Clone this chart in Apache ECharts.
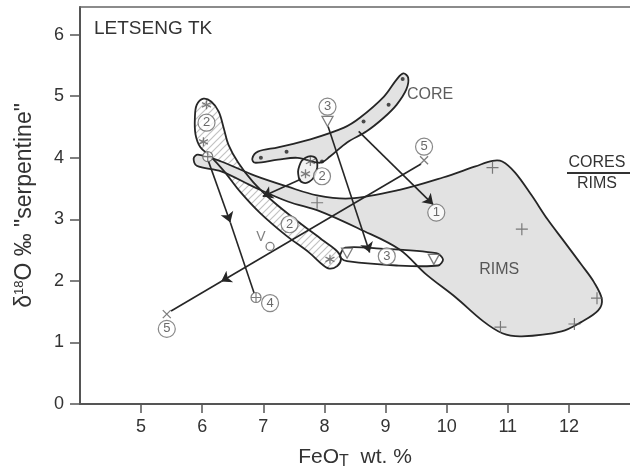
<!DOCTYPE html>
<html>
<head>
<meta charset="utf-8">
<script src="https://cdn.jsdelivr.net/npm/echarts@6/dist/echarts.min.js"></script>
<style>
  html, body { margin: 0; padding: 0; background: #fff; }
  #chart { width: 630px; height: 475px; }
</style>
</head>
<body>
<div id="chart"></div>
<script>
// axis ticks
var xTicks = [5, 6, 7, 8, 9, 10, 11, 12];
var yTicks = [0, 1, 2, 3, 4, 5, 6];

// outlined fields (FeO, d18O)
var rimsOutline = [[5.86,3.99],[5.93,4.05],[6.31,3.94],[6.86,3.71],[7.40,3.53],[7.88,3.39],[8.42,3.34],[9.23,3.48],
  [9.94,3.68],[10.47,3.86],[10.75,3.95],[10.91,3.94],[11.12,3.76],[11.39,3.39],[11.65,3.00],[11.93,2.63],[12.20,2.27],
  [12.41,1.98],[12.54,1.70],[12.48,1.52],[12.20,1.33],[11.88,1.18],[11.23,1.10],[10.91,1.15],[10.59,1.35],[10.15,1.73],
  [9.66,2.11],[9.23,2.51],[8.58,2.84],[7.93,3.13],[7.40,3.29],[6.86,3.52],[6.31,3.78],[5.91,3.87]];
var hatchOutline = [[6.15,4.91],[6.27,4.75],[6.35,4.49],[6.43,4.21],[6.59,3.92],[6.83,3.61],[7.16,3.29],[7.56,2.97],
  [7.96,2.67],[8.21,2.48],[8.27,2.35],[8.21,2.24],[8.08,2.20],[7.96,2.27],[7.75,2.46],[7.37,2.74],[6.94,3.11],
  [6.62,3.45],[6.36,3.78],[6.14,4.02],[5.97,4.17],[5.89,4.38],[5.88,4.65],[5.91,4.86],[6.02,4.96]];
var coreOutline = [[6.82,3.99],[6.91,4.10],[7.24,4.17],[7.77,4.30],[8.32,4.49],[8.58,4.65],[8.97,4.99],[9.18,5.27],
  [9.29,5.37],[9.37,5.30],[9.34,5.11],[9.18,4.86],[8.97,4.65],[8.69,4.43],[8.37,4.25],[8.09,4.02],[7.93,3.92],
  [7.56,4.00],[7.24,3.97],[6.86,3.92]];
var ellipseOutline = [[7.82,4.02],[7.88,3.94],[7.85,3.74],[7.75,3.61],[7.64,3.60],[7.58,3.68],[7.59,3.87],[7.69,4.00]];
var band3Outline = [[8.26,2.43],[8.34,2.54],[8.85,2.53],[9.83,2.45],[9.94,2.35],[9.86,2.25],[9.18,2.25],[8.37,2.32],[8.27,2.37]];

// point symbols
var asterisks = [[6.07,4.86],[6.02,4.26],[8.09,2.35],[7.77,3.94],[7.69,3.74]];
var coreDots = [[6.96,4.00],[7.38,4.10],[7.96,3.94],[8.64,4.59],[9.05,4.86],[9.28,5.28]];
var plusPts = [[10.75,3.84],[11.23,2.84],[10.88,1.25],[12.09,1.30],[12.46,1.72],[7.88,3.27]];
var oplusPts = [[6.09,4.02],[6.88,1.73]];
var crossPts = [[9.63,3.96],[5.42,1.46]];
var triPts = [[8.05,4.59],[8.37,2.45],[9.79,2.35]];
var vPts = [[6.96,2.71]];
var ringPts = [[7.11,2.56]];

// circled sample numbers
var circled = [[6.07,4.57,'2'],[7.96,3.70,'2'],[7.43,2.92,'2'],[8.05,4.83,'3'],[9.02,2.40,'3'],
  [7.11,1.64,'4'],[9.63,4.18,'5'],[5.42,1.22,'5'],[9.83,3.11,'1']];

// trends
var arrowSegs = [
  [[8.56,4.43],[9.78,3.24]],
  [[8.06,4.51],[8.74,2.46]],
  [[9.58,3.90],[6.31,1.99]],
  [[6.10,3.95],[6.46,2.95]],
  [[7.61,3.65],[6.99,3.37]]
];
var plainSegs = [
  [[6.31,1.99],[5.49,1.51]],
  [[6.46,2.95],[6.85,1.80]]
];

var fieldLabels = [[9.73,5.02,'CORE'],[10.86,2.19,'RIMS']];

// hatch pattern
var hatch = document.createElement('canvas');
hatch.width = 7; hatch.height = 7;
var g = hatch.getContext('2d');
g.fillStyle = '#fff';
g.fillRect(0, 0, 7, 7);
g.strokeStyle = '#c2c2c2';
g.lineWidth = 1.2;
g.beginPath();
g.moveTo(0, 7); g.lineTo(7, 0);
g.moveTo(-1, 1); g.lineTo(1, -1);
g.moveTo(6, 8); g.lineTo(8, 6);
g.stroke();

var shapes = [
  {pts: hatchOutline, fill: {image: hatch, repeat: 'repeat'}, smooth: 0.35},
  {pts: rimsOutline, fill: '#e2e2e2', smooth: 0.35},
  {pts: coreOutline, fill: '#e2e2e2', smooth: 0.35},
  {pts: ellipseOutline, fill: '#f2f2f2', smooth: 0.5},
  {pts: band3Outline, fill: '#ffffff', smooth: 0.3}
];

var INK = '#262626';
var MARK = '#5e5e5e';
var FONT = 'Liberation Sans, Arial, sans-serif';

function polyRender(mode) {
  return function (params, api) {
    var s = shapes[api.value(2)];
    var pts = s.pts.map(function (p) { return api.coord(p); });
    var style = mode == 'fill'
      ? {fill: s.fill, stroke: null}
      : {fill: null, stroke: INK, lineWidth: 1.8};
    return {type: 'polygon', shape: {points: pts, smooth: s.smooth}, style: style, silent: true};
  };
}

function markSeries(data, symbol, size, style, z) {
  return {
    type: 'scatter', data: data, symbol: symbol, symbolSize: size,
    itemStyle: style, z: z || 6, silent: true
  };
}

var polyData = shapes.map(function (s, i) { return [s.pts[0][0], s.pts[0][1], i]; });

var chart = echarts.init(document.getElementById('chart'));
chart.setOption({
  animation: false,
  title: {
    text: 'LETSENG TK', left: 89, top: 14,
    textStyle: {fontFamily: FONT, fontSize: 19, fontWeight: 'normal', color: '#333'}
  },
  grid: {left: 80, top: 7, right: -6, bottom: 70},
  xAxis: [{
    type: 'value', min: 4, max: 13,
    name: '{a|FeO}{s|T}{a|  wt. %}', nameLocation: 'middle', nameGap: 41,
    nameTextStyle: {
      color: '#333', fontFamily: FONT,
      rich: {a: {fontSize: 21, fontFamily: FONT, color: '#333'},
             s: {fontSize: 16, fontFamily: FONT, color: '#333', verticalAlign: 'bottom', padding: [9, 0, 0, 0]}}
    },
    axisLine: {onZero: false, lineStyle: {color: '#555', width: 2}},
    axisTick: {length: 9, customValues: xTicks, lineStyle: {color: '#555', width: 1.5}},
    axisLabel: {customValues: xTicks, margin: 14, fontSize: 18, color: '#333', fontFamily: FONT},
    splitLine: {show: false}
  }, {
    type: 'value', min: 4, max: 13, position: 'top',
    axisLine: {onZero: false, lineStyle: {color: '#666', width: 1.5}},
    axisTick: {show: false}, axisLabel: {show: false}, splitLine: {show: false}
  }],
  yAxis: {
    type: 'value', min: 0, max: 6.45,
    name: '{a|δ}{s|18}{a|O ‰ "serpentine"}', nameLocation: 'middle', nameGap: 44, nameRotate: 90,
    nameTextStyle: {
      color: '#333', fontFamily: FONT,
      rich: {a: {fontSize: 23, fontFamily: FONT, color: '#333'},
             s: {fontSize: 13, fontFamily: FONT, color: '#333', verticalAlign: 'top'}}
    },
    axisLine: {onZero: false, lineStyle: {color: '#555', width: 2}},
    axisTick: {length: 10, customValues: yTicks, lineStyle: {color: '#555', width: 1.5}},
    axisLabel: {customValues: yTicks, margin: 16, fontSize: 18, color: '#333', fontFamily: FONT},
    splitLine: {show: false}
  },
  graphic: [
    {type: 'text', x: 597, y: 163, z: 10,
     style: {text: 'CORES', textAlign: 'center', textVerticalAlign: 'middle', font: '16px ' + FONT, fill: '#333'}},
    {type: 'line', z: 10, shape: {x1: 567, y1: 173, x2: 630, y2: 173}, style: {stroke: '#333', lineWidth: 2}},
    {type: 'text', x: 597, y: 184, z: 10,
     style: {text: 'RIMS', textAlign: 'center', textVerticalAlign: 'middle', font: '16px ' + FONT, fill: '#333'}}
  ],
  series: [
    {type: 'custom', renderItem: polyRender('fill'), data: polyData, encode: {x: 0, y: 1}, z: 1, silent: true},
    {type: 'custom', renderItem: polyRender('stroke'), data: polyData, encode: {x: 0, y: 1}, z: 3, silent: true},
    {
      type: 'lines', coordinateSystem: 'cartesian2d', z: 4, silent: true,
      data: arrowSegs.map(function (s) { return {coords: s}; }),
      symbol: ['none', 'arrow'], symbolSize: 10,
      lineStyle: {color: INK, width: 1.6, opacity: 1}
    },
    {
      type: 'lines', coordinateSystem: 'cartesian2d', z: 4, silent: true,
      data: plainSegs.map(function (s) { return {coords: s}; }),
      symbol: 'none',
      lineStyle: {color: INK, width: 1.6, opacity: 1}
    },
    markSeries(asterisks, 'path://M5,0V10M0.7,2.5L9.3,7.5M9.3,2.5L0.7,7.5', 9,
      {color: 'transparent', borderColor: MARK, borderWidth: 1.3}),
    markSeries(coreDots, 'circle', 4, {color: '#222'}),
    markSeries(plusPts, 'path://M5,0V10M0,5H10', 12, {color: 'transparent', borderColor: MARK, borderWidth: 1.2}),
    markSeries(oplusPts, 'path://M0,5A5,5,0,1,1,10,5A5,5,0,1,1,0,5ZM5,0V10M0,5H10', 10,
      {color: '#fff', borderColor: MARK, borderWidth: 1.2}),
    markSeries(crossPts, 'path://M0,0L10,10M10,0L0,10', 8, {color: 'transparent', borderColor: MARK, borderWidth: 1.3}),
    markSeries(triPts, 'path://M0,0H10L5,9Z', [11, 10], {color: '#fff', borderColor: MARK, borderWidth: 1.3}),
    markSeries(ringPts, 'circle', 8, {color: '#fff', borderColor: MARK, borderWidth: 1.3}),
    {
      type: 'scatter', z: 6, silent: true, symbolSize: 0,
      data: vPts,
      label: {show: true, position: 'inside', formatter: 'V', fontSize: 14, color: MARK, fontFamily: FONT}
    },
    {
      type: 'scatter', z: 7, silent: true, symbol: 'circle', symbolSize: 17,
      data: circled.map(function (c) { return {value: [c[0], c[1]], name: c[2]}; }),
      itemStyle: {color: '#fff', borderColor: '#6a6a6a', borderWidth: 1.2},
      label: {show: true, position: 'inside', formatter: '{b}', fontSize: 13, color: '#444', fontFamily: FONT}
    },
    {
      type: 'scatter', z: 7, silent: true, symbolSize: 0,
      data: fieldLabels.map(function (c) { return {value: [c[0], c[1]], name: c[2]}; }),
      label: {show: true, position: 'inside', formatter: '{b}', fontSize: 16, color: '#333', fontFamily: FONT}
    }
  ]
});
</script>
</body>
</html>
